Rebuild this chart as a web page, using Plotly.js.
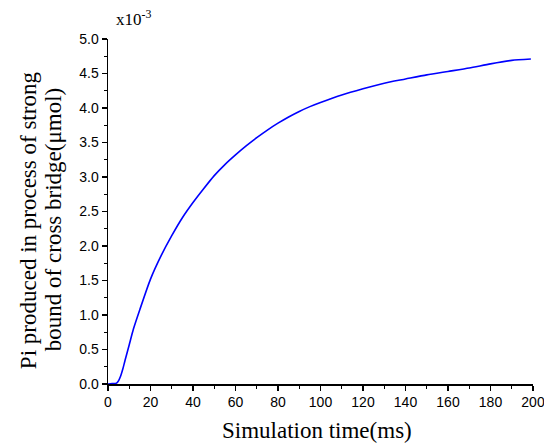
<!DOCTYPE html>
<html><head><meta charset="utf-8">
<script src="https://cdn.plot.ly/plotly-3.0.1.min.js"></script>
<style>html,body{margin:0;padding:0;background:#fff}#chart{width:544px;height:446px}</style>
</head><body><div id="chart"></div>
<script>
const timeMs = [0, 2, 4, 5, 6, 7, 8, 10, 12, 15, 20, 25, 30, 35, 40, 45, 50, 55, 60, 65, 70, 75, 80, 85, 90, 95, 100, 110, 120, 130, 140, 150, 160, 170, 180, 190, 199];
const piValues = [0, 0.005, 0.012, 0.05, 0.12, 0.22, 0.34, 0.57, 0.80, 1.08, 1.52, 1.86, 2.15, 2.41, 2.63, 2.83, 3.02, 3.18, 3.32, 3.45, 3.57, 3.68, 3.78, 3.87, 3.95, 4.02, 4.08, 4.19, 4.28, 4.36, 4.42, 4.48, 4.53, 4.58, 4.64, 4.69, 4.71];
const xTitle = "Simulation time(ms)";
const yTitleLine1 = "Pi produced in process of strong";
const yTitleLine2 = "bound of cross bridge(μmol)";
const scaleLabel = "x10<sup>-3</sup>";

const trace = {x: timeMs, y: piValues, type: 'scatter', mode: 'lines', line: {color: '#0000ff', width: 1.6, shape: 'spline', smoothing: 0.6}};
const axisCommon = {showline: true, linecolor: '#000', linewidth: 1.5, ticks: 'outside', ticklen: 5, tickwidth: 1.3, tickcolor: '#000', showgrid: false, zeroline: false, mirror: false,
  ticklabeloverflow: 'allow', tickfont: {family: 'Liberation Sans, Arial', size: 14, color: '#000'}};
const serif = 'Liberation Serif, Times New Roman';
const layout = {
  width: 544, height: 446,
  margin: {l: 108, r: 10.5, t: 38.5, b: 62},
  paper_bgcolor: '#fff', plot_bgcolor: '#fff',
  showlegend: false,
  xaxis: Object.assign({}, axisCommon, {range: [0, 200], dtick: 20, tick0: 0,
    minor: {dtick: 10, ticks: 'outside', ticklen: 3, tickwidth: 1.2, tickcolor: '#000'}}),
  yaxis: Object.assign({}, axisCommon, {range: [0, 5], dtick: 0.5, tick0: 0, tickformat: '.1f',
    minor: {dtick: 0.25, ticks: 'outside', ticklen: 3, tickwidth: 1.2, tickcolor: '#000'}}),
  annotations: [
    {text: scaleLabel, xref: 'paper', yref: 'paper', x: 0, y: 1.0, xshift: 6, yshift: 8, xanchor: 'left', yanchor: 'bottom', showarrow: false,
      font: {family: serif, size: 17, color: '#000'}},
    {text: xTitle, xref: 'paper', yref: 'paper', x: 0.5, y: 0, xshift: -4, yshift: -32, xanchor: 'center', yanchor: 'top', showarrow: false,
      font: {family: serif, size: 23, color: '#000'}},
    {text: yTitleLine1, xref: 'paper', yref: 'paper', x: 0, y: 0.475, xshift: -80, textangle: -90, xanchor: 'center', yanchor: 'middle', showarrow: false,
      font: {family: serif, size: 23, color: '#000'}},
    {text: yTitleLine2, xref: 'paper', yref: 'paper', x: 0, y: 0.475, xshift: -55, textangle: -90, xanchor: 'center', yanchor: 'middle', showarrow: false,
      font: {family: serif, size: 23, color: '#000'}}
  ]
};
Plotly.newPlot('chart', [trace], layout, {displayModeBar: false, staticPlot: true});
</script></body></html>
